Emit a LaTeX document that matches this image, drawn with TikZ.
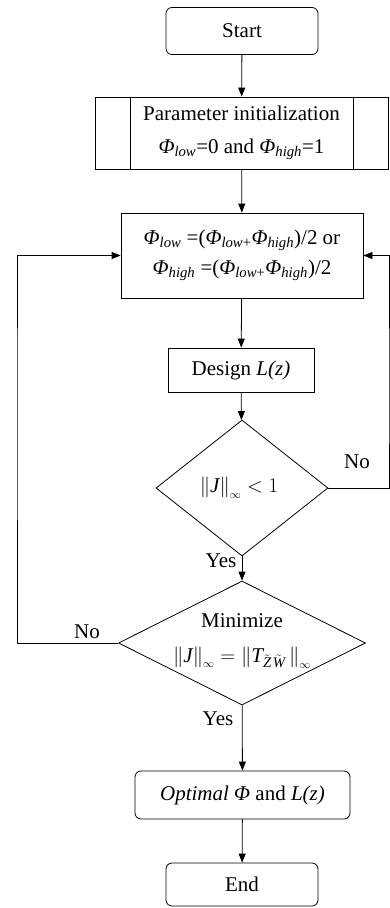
\documentclass[tikz,border=0pt]{standalone}
\usepackage{amsmath}
\usepackage{fontspec}
\setmainfont{Liberation Serif}
\usepackage{tikz}
\usetikzlibrary{arrows.meta,positioning,shapes.geometric}

\newcommand{\phisub}[1]{\textit{Φ}\textsubscript{\textit{#1}}}

\begin{document}
\begin{tikzpicture}[x=1pt,y=-1pt,
    font=\fontsize{21}{25}\selectfont,
    line width=0.8pt,
    flow/.style={-{Triangle[length=9pt,width=7pt]}},
    termbox/.style={draw,rounded corners=6pt,inner sep=0pt},
    procbox/.style={draw,inner sep=0pt},
    decision/.style={draw,diamond,inner sep=0pt}]
    \useasboundingbox (0,0) rectangle (390,908);

    % Boxes
    \node[termbox,minimum width=152pt,minimum height=47pt] (start) at (242,31) {Start};
    \node[procbox,minimum width=293pt,minimum height=72pt,align=center,
      font=\fontsize{21}{33}\selectfont] (init) at (241.5,133)
      {Parameter initialization\\\phisub{low}=0 and \phisub{high}=1};
    \draw ([xshift=36pt]init.north west) -- ([xshift=36pt]init.south west);
    \draw ([xshift=-35pt]init.north east) -- ([xshift=-35pt]init.south east);
    \node[procbox,minimum width=242pt,minimum height=85pt,align=center,
      font=\fontsize{21}{30}\selectfont] (update) at (242,255.5)
      {\phisub{low} =(\textit{Φ}\textsubscript{\textit{low}+}\phisub{high})/2 or\\
       \phisub{high} =(\textit{Φ}\textsubscript{\textit{low}+}\phisub{high})/2};
    \node[procbox,minimum width=146pt,minimum height=44pt] (design) at (241,370)
      {Design \textit{L(z)}};

    % Decisions (text set on top of the empty diamonds)
    \node[decision,minimum width=172pt,minimum height=136pt] (check) at (242,488) {};
    \node (checktxt) at (239,488) {$\left\|\textit{J}\right\|_{\scriptscriptstyle\infty}<1$};
    \node[decision,minimum width=247pt,minimum height=124pt] (minim) at (242,643) {};
    \node[align=center,font=\fontsize{21}{35}\selectfont] (minimtxt) at (242,641)
      {Minimize\\$\left\|\textit{J}\right\|_{\scriptscriptstyle\infty}
       =\left\|\textit{T}_{\tilde{\textit{Z}}\mskip2mu\tilde{\textit{W}}}\,\right\|_{\scriptscriptstyle\infty}$};

    \node[termbox,minimum width=215pt,minimum height=48pt] (optimal) at (242.5,795)
      {\textit{Optimal Φ} and \textit{L(z)}};
    \node[termbox,minimum width=152pt,minimum height=43pt] (end) at (242,884.5) {End};

    % Branch labels
    \node (no1) at (357,462) {No};
    \node (yes1) at (221,561) {Yes};
    \node (no2) at (87,632) {No};
    \node (yes2) at (218,719) {Yes};

    % Loop corners
    \coordinate (rbend) at (389,400);
    \coordinate (lbend) at (17,400);

    % Connectors
    \draw[flow] (start) -- (init);
    \draw[flow] (init) -- (update);
    \draw[flow] (update) -- (design);
    \draw[flow] (design) -- (check);
    \draw[flow] (check) -- (minim);
    \draw[flow] (minim) -- (optimal);
    \draw[flow] (optimal) -- (end);
    \draw[flow] (check.east) -| (rbend) |- (update.east);
    \draw[flow] (minim.west) -| (lbend) |- (update.west);
\end{tikzpicture}
\end{document}
